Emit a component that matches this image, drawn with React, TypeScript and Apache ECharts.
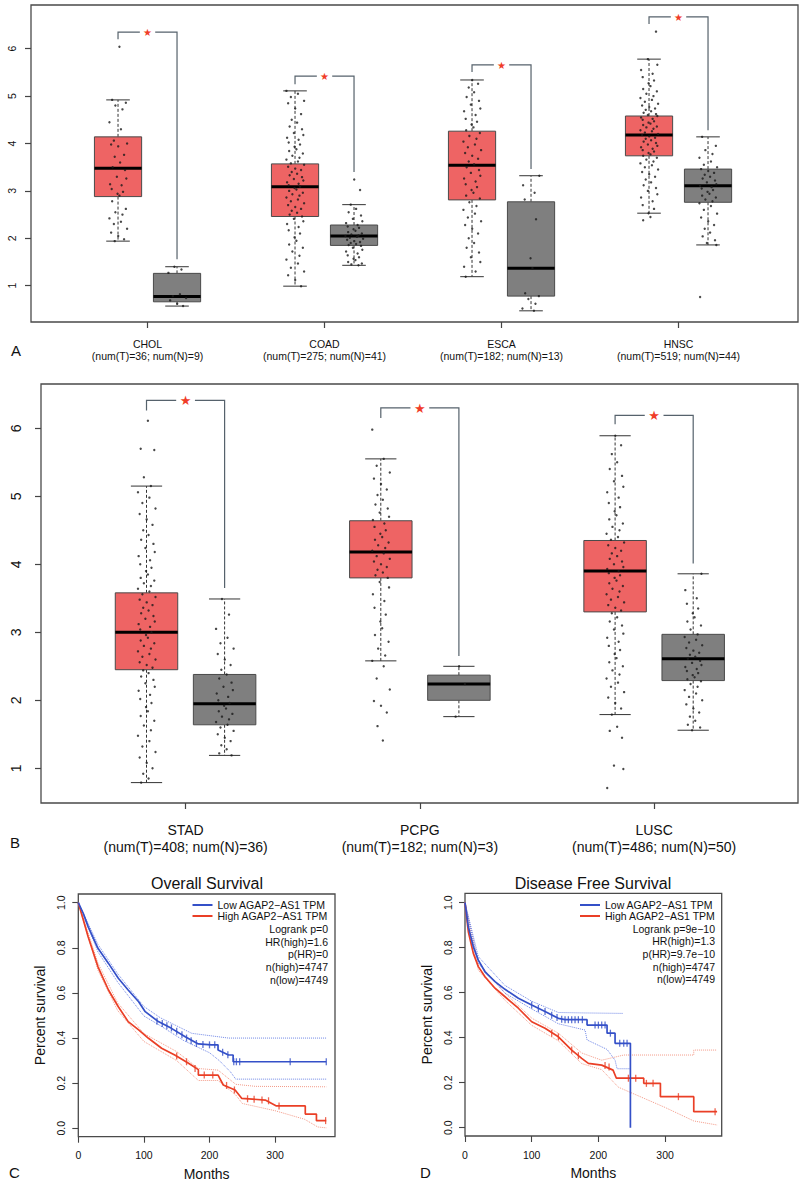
import React, { useEffect, useRef } from "react";
import * as echarts from "echarts";

// ---------------- Panel A ----------------
const cancersA = ["CHOL", "COAD", "ESCA", "HNSC"];
const numTumorA = [36, 275, 182, 519];
const numNormalA = [9, 41, 13, 44];
// [lower whisker, Q1, median, Q3, upper whisker]
const tumorStatsA = [
  [1.94, 2.88, 3.48, 4.14, 4.92],
  [0.99, 2.46, 3.09, 3.57, 5.11],
  [1.19, 2.81, 3.54, 4.26, 5.34],
  [2.53, 3.74, 4.18, 4.58, 5.78],
];
const normalStatsA = [
  [0.57, 0.66, 0.77, 1.26, 1.4],
  [1.43, 1.85, 2.05, 2.28, 2.71],
  [0.47, 0.78, 1.37, 2.77, 3.32],
  [1.86, 2.76, 3.11, 3.46, 4.14],
];
// [bracket top, left leg end, right leg end]
const bracketsA = [
  [6.35, 6.2, 1.56],
  [5.42, 5.25, 3.4],
  [5.66, 5.51, 3.46],
  [6.67, 6.52, 4.28],
];
const tumorPointsA = [
  [6.04, 4.92, 4.86, 4.8, 4.72, 4.45, 4.3, 4.06, 4.0, 3.98, 3.94, 3.76, 3.72, 3.6, 3.5, 3.44, 3.3, 3.26, 3.14, 3.12, 3.04, 2.98, 2.94, 2.9, 2.78, 2.62, 2.55, 2.5, 2.42, 2.35, 2.3, 2.2, 2.12, 2.05, 1.98, 1.94],
  [5.11, 5.05, 4.98, 4.9, 4.85, 4.74, 4.62, 4.5, 4.44, 4.36, 4.3, 4.22, 4.18, 4.12, 4.08, 4.02, 3.98, 3.93, 3.88, 3.84, 3.79, 3.74, 3.7, 3.66, 3.62, 3.58, 3.55, 3.51, 3.47, 3.44, 3.4, 3.36, 3.33, 3.29, 3.25, 3.22, 3.18, 3.15, 3.12, 3.09, 3.06, 3.03, 3.0, 2.96, 2.93, 2.9, 2.86, 2.82, 2.78, 2.74, 2.7, 2.66, 2.62, 2.58, 2.54, 2.5, 2.46, 2.41, 2.36, 2.3, 2.24, 2.17, 2.1, 2.02, 1.95, 1.87, 1.8, 1.72, 1.63, 1.55, 1.47, 1.38, 1.3, 1.22, 1.12, 0.99],
  [5.34, 5.26, 5.18, 5.08, 4.98, 4.9, 4.82, 4.74, 4.68, 4.6, 4.52, 4.46, 4.4, 4.34, 4.28, 4.22, 4.16, 4.1, 4.04, 3.98, 3.92, 3.86, 3.8, 3.74, 3.68, 3.62, 3.56, 3.5, 3.44, 3.38, 3.32, 3.26, 3.2, 3.14, 3.08, 3.02, 2.96, 2.9, 2.84, 2.76, 2.68, 2.6, 2.52, 2.44, 2.36, 2.28, 2.2, 2.1, 2.0, 1.9, 1.8, 1.7, 1.6, 1.5, 1.4, 1.3, 1.19],
  [6.36, 5.78, 5.66, 5.55, 5.47, 5.4, 5.33, 5.27, 5.21, 5.15, 5.1, 5.05, 5.0, 4.96, 4.92, 4.88, 4.84, 4.8, 4.77, 4.74, 4.71, 4.68, 4.65, 4.62, 4.6, 4.58, 4.55, 4.52, 4.5, 4.47, 4.44, 4.42, 4.39, 4.36, 4.34, 4.31, 4.28, 4.26, 4.23, 4.2, 4.18, 4.15, 4.12, 4.1, 4.07, 4.04, 4.01, 3.98, 3.95, 3.92, 3.89, 3.86, 3.83, 3.8, 3.77, 3.74, 3.7, 3.66, 3.62, 3.58, 3.54, 3.5, 3.45, 3.4, 3.35, 3.3, 3.24, 3.18, 3.12, 3.06, 3.0, 2.93, 2.86, 2.78, 2.7, 2.62, 2.53, 2.45, 2.38],
];
const normalPointsA = [
  [1.4, 1.34, 1.27, 0.82, 0.78, 0.74, 0.69, 0.62, 0.57],
  [3.24, 3.02, 2.71, 2.62, 2.55, 2.48, 2.41, 2.36, 2.32, 2.28, 2.25, 2.22, 2.19, 2.16, 2.13, 2.1, 2.08, 2.06, 2.05, 2.03, 2.01, 1.99, 1.97, 1.94, 1.92, 1.9, 1.88, 1.86, 1.84, 1.8, 1.76, 1.72, 1.68, 1.64, 1.6, 1.57, 1.54, 1.5, 1.47, 1.45, 1.43],
  [3.32, 3.12, 2.96, 2.82, 2.4, 1.58, 1.37, 0.84, 0.78, 0.72, 0.62, 0.52, 0.47],
  [4.14, 3.95, 3.86, 3.78, 3.7, 3.62, 3.55, 3.5, 3.46, 3.42, 3.38, 3.34, 3.3, 3.26, 3.22, 3.18, 3.14, 3.11, 3.08, 3.05, 3.02, 2.98, 2.94, 2.9, 2.86, 2.82, 2.78, 2.74, 2.68, 2.6, 2.52, 2.44, 2.36, 2.28, 2.2, 2.12, 2.04, 1.96, 1.9, 1.86, 0.76],
];
const yTicksA = [1, 2, 3, 4, 5, 6];

// ---------------- Panel B ----------------
const cancersB = ["STAD", "PCPG", "LUSC"];
const numTumorB = [408, 182, 486];
const numNormalB = [36, 3, 50];
const tumorStatsB = [
  [0.79, 2.45, 3.0, 3.58, 5.15],
  [2.58, 3.8, 4.18, 4.64, 5.55],
  [1.79, 3.3, 3.9, 4.35, 5.89],
];
const normalStatsB = [
  [1.19, 1.64, 1.95, 2.38, 3.49],
  [1.76, 2.0, 2.24, 2.37, 2.5],
  [1.56, 2.29, 2.61, 2.97, 3.86],
];
const bracketsB = [
  [6.41, 6.26, 3.65],
  [6.3, 6.15, 2.65],
  [6.19, 6.06, 4.01],
];
const tumorPointsB = [
  [6.11, 5.7, 5.68, 5.28, 5.15, 5.06, 4.98, 4.9, 4.82, 4.74, 4.66, 4.58, 4.5, 4.43, 4.36, 4.3, 4.24, 4.18, 4.12, 4.06, 4.0, 3.95, 3.9, 3.85, 3.8, 3.76, 3.72, 3.68, 3.64, 3.6, 3.56, 3.52, 3.48, 3.44, 3.4, 3.36, 3.32, 3.28, 3.24, 3.2, 3.16, 3.12, 3.08, 3.04, 3.0, 2.96, 2.92, 2.88, 2.84, 2.8, 2.76, 2.72, 2.68, 2.64, 2.6, 2.56, 2.52, 2.48, 2.44, 2.4, 2.35, 2.3, 2.25, 2.2, 2.14, 2.08, 2.02, 1.96, 1.9, 1.84, 1.77, 1.7, 1.63, 1.56, 1.48, 1.4, 1.32, 1.24, 1.16, 1.08, 1.0, 0.92, 0.85, 0.79],
  [5.98, 5.55, 5.45, 5.35, 5.26, 5.18, 5.1, 5.02, 4.95, 4.88, 4.82, 4.76, 4.7, 4.65, 4.6, 4.55, 4.5, 4.45, 4.4, 4.36, 4.32, 4.28, 4.24, 4.2, 4.16, 4.12, 4.08, 4.04, 4.0, 3.96, 3.92, 3.88, 3.84, 3.8, 3.74, 3.66, 3.56, 3.46, 3.36, 3.26, 3.16, 3.06, 2.96, 2.86, 2.76, 2.66, 2.58, 2.5, 2.32, 2.16, 1.99, 1.92, 1.82, 1.62, 1.41],
  [5.89, 5.75, 5.62, 5.5, 5.4, 5.3, 5.22, 5.14, 5.06, 4.98, 4.9, 4.84, 4.78, 4.72, 4.66, 4.6, 4.55, 4.5, 4.45, 4.4, 4.36, 4.32, 4.28, 4.24, 4.2, 4.16, 4.12, 4.08, 4.04, 4.0, 3.96, 3.93, 3.9, 3.87, 3.84, 3.8, 3.76, 3.72, 3.68, 3.64, 3.6, 3.56, 3.52, 3.48, 3.44, 3.4, 3.36, 3.32, 3.28, 3.22, 3.16, 3.1, 3.04, 2.98, 2.92, 2.86, 2.8, 2.74, 2.68, 2.62, 2.56, 2.5, 2.44, 2.38, 2.32, 2.26, 2.2, 2.12, 2.04, 1.96, 1.88, 1.79, 1.61, 1.55, 1.45, 1.04, 0.99, 0.71],
];
const normalPointsB = [
  [3.49, 3.26, 3.05, 2.92, 2.84, 2.76, 2.68, 2.6, 2.52, 2.45, 2.38, 2.32, 2.26, 2.2, 2.15, 2.1, 2.05, 2.0, 1.96, 1.92, 1.88, 1.84, 1.8, 1.76, 1.72, 1.68, 1.64, 1.6, 1.55, 1.5, 1.45, 1.4, 1.34, 1.28, 1.22, 1.19],
  [2.5, 2.24, 1.76],
  [3.86, 3.62, 3.5, 3.42, 3.35, 3.28, 3.22, 3.16, 3.1, 3.04, 2.97, 2.93, 2.89, 2.85, 2.81, 2.77, 2.73, 2.7, 2.67, 2.64, 2.61, 2.58, 2.55, 2.52, 2.49, 2.46, 2.43, 2.4, 2.37, 2.34, 2.31, 2.28, 2.24, 2.2, 2.15, 2.1, 2.05, 2.0, 1.94, 1.88, 1.82, 1.76, 1.7, 1.64, 1.6, 1.56],
];
const yTicksB = [1, 2, 3, 4, 5, 6];

// ---------------- Panels C & D (Kaplan-Meier) ----------------
const lowName = "Low AGAP2\u2212AS1 TPM";
const highName = "High AGAP2\u2212AS1 TPM";
const monthTicks = [0, 100, 200, 300];
const survTicks = [0, 0.2, 0.4, 0.6, 0.8, 1.0];

const osLow = [[0, 1], [8, 0.95], [15, 0.894], [30, 0.798], [46, 0.731], [61, 0.665], [76, 0.613], [92, 0.561], [102, 0.517], [122, 0.473], [142, 0.443], [163, 0.406], [183, 0.374], [203, 0.37], [213, 0.37], [213, 0.347], [229, 0.325], [236, 0.325], [236, 0.295], [378, 0.295]];
const osHigh = [[0, 1], [7, 0.93], [15, 0.849], [30, 0.716], [46, 0.613], [61, 0.539], [76, 0.473], [92, 0.436], [107, 0.399], [127, 0.355], [147, 0.325], [168, 0.288], [183, 0.26], [183, 0.236], [213, 0.236], [221, 0.192], [239, 0.17], [249, 0.133], [285, 0.125], [302, 0.099], [346, 0.099], [346, 0.063], [363, 0.063], [363, 0.034], [378, 0.034]];
const osLowUpper = [[0, 1], [30, 0.815], [60, 0.685], [100, 0.54], [125, 0.49], [173, 0.421], [229, 0.4], [378, 0.4]];
const osLowLower = [[0, 1], [30, 0.782], [60, 0.648], [100, 0.498], [125, 0.455], [160, 0.39], [200, 0.335], [215, 0.3], [232, 0.25], [240, 0.218], [378, 0.218]];
const osHighUpper = [[0, 1], [30, 0.732], [60, 0.556], [100, 0.42], [150, 0.34], [183, 0.265], [213, 0.258], [240, 0.195], [270, 0.186], [378, 0.184]];
const osHighLower = [[0, 1], [30, 0.7], [60, 0.522], [100, 0.385], [150, 0.3], [183, 0.212], [213, 0.212], [240, 0.148], [250, 0.11], [300, 0.078], [345, 0.04], [365, 0.006], [378, 0.002]];
const osLowCensor = [[120, 0.475], [128, 0.465], [135, 0.455], [142, 0.445], [150, 0.43], [158, 0.415], [165, 0.4], [172, 0.388], [180, 0.376], [190, 0.372], [200, 0.37], [208, 0.37], [220, 0.337], [228, 0.326], [237, 0.295], [241, 0.295], [246, 0.295], [323, 0.295], [378, 0.295]];
const osHighCensor = [[150, 0.32], [165, 0.295], [178, 0.265], [192, 0.236], [205, 0.236], [226, 0.19], [238, 0.17], [258, 0.131], [268, 0.129], [280, 0.126], [290, 0.122], [306, 0.099], [377, 0.034]];

const dfsLow = [[0, 1], [5, 0.893], [12.5, 0.804], [20, 0.745], [30, 0.693], [45, 0.649], [60, 0.615], [80, 0.575], [100, 0.545], [120, 0.516], [140, 0.486], [150, 0.48], [183, 0.48], [183, 0.456], [213, 0.456], [213, 0.42], [225, 0.42], [225, 0.375], [248, 0.375], [248, 0.0]];
const dfsHigh = [[0, 1], [5, 0.871], [12.5, 0.775], [20, 0.716], [30, 0.671], [45, 0.62], [60, 0.582], [80, 0.531], [100, 0.471], [120, 0.442], [140, 0.404], [160, 0.345], [175, 0.308], [185, 0.286], [205, 0.278], [222, 0.256], [227, 0.22], [268, 0.22], [268, 0.197], [293, 0.197], [293, 0.138], [343, 0.138], [343, 0.071], [378, 0.071]];
const dfsLowUpper = [[0, 1], [20, 0.76], [60, 0.632], [100, 0.562], [140, 0.512], [180, 0.51], [237, 0.508]];
const dfsLowLower = [[0, 1], [20, 0.73], [60, 0.598], [100, 0.528], [140, 0.462], [180, 0.434], [183, 0.39], [213, 0.348], [225, 0.3], [228, 0.262], [248, 0.262]];
const dfsHighUpper = [[0, 1], [20, 0.732], [60, 0.598], [100, 0.487], [140, 0.42], [175, 0.332], [205, 0.3], [238, 0.323], [343, 0.323], [343, 0.345], [378, 0.345]];
const dfsHighLower = [[0, 1], [20, 0.7], [60, 0.566], [100, 0.455], [140, 0.386], [175, 0.285], [205, 0.258], [230, 0.18], [300, 0.09], [343, 0.03], [378, 0.012]];
const dfsLowCensor = [[100, 0.545], [110, 0.53], [120, 0.516], [130, 0.5], [138, 0.49], [145, 0.482], [150, 0.48], [155, 0.48], [160, 0.48], [165, 0.48], [170, 0.48], [176, 0.48], [195, 0.456], [200, 0.456], [205, 0.456], [210, 0.456], [218, 0.42], [232, 0.375], [238, 0.375], [243, 0.375]];
const dfsHighCensor = [[130, 0.42], [140, 0.404], [160, 0.345], [170, 0.32], [210, 0.276], [216, 0.27], [245, 0.22], [256, 0.22], [272, 0.197], [282, 0.197], [320, 0.138], [375, 0.071]];

const statsC = ["Logrank p=0", "HR(high)=1.6", "p(HR)=0", "n(high)=4747", "n(low)=4749"];
const statsD = ["Logrank p=9e\u221210", "HR(high)=1.3", "p(HR)=9.7e\u221210", "n(high)=4747", "n(low)=4749"];

// ---------------- styles ----------------
const FONT = '"Liberation Sans", Arial, Helvetica, sans-serif';
const RED_BOX = "#ee6464";
const GREY_BOX = "#7f7f7f";
const BOX_EDGE = "#4a4a4a";
const BRACKET = "#56626c";
const STAR = "#f03c28";
const BLUE = "#3450c8";
const RED = "#ea3f26";
const BLUE_CI = "#6f86e6";
const RED_CI = "#f39a88";
const JITTER = [0.15, -0.62, 0.83, -0.28, 0.47, -0.91, 0.31, -0.44, 0.96, -0.73, 0.02, 0.64, -0.35, 0.22, -0.57, 0.74, -0.12, 0.88, -0.84, 0.38, -0.67, 0.53, -0.05];

function boxRender(boxW: number, capW: number) {
  return (params: any, api: any) => {
    const x = api.value(0);
    const lo = api.coord([x, api.value(1)]);
    const q1 = api.coord([x, api.value(2)]);
    const md = api.coord([x, api.value(3)]);
    const q3 = api.coord([x, api.value(4)]);
    const hi = api.coord([x, api.value(5)]);
    const kind = api.value(6);
    const w = api.size([boxW, 0])[0];
    const cw = api.size([capW, 0])[0];
    const cx = md[0];
    const whisk = { stroke: "#333", lineWidth: 1, lineDash: [3, 2] };
    const cap = { stroke: "#333", lineWidth: 1 };
    return {
      type: "group",
      children: [
        { type: "line", shape: { x1: cx, y1: q3[1], x2: cx, y2: hi[1] }, style: whisk },
        { type: "line", shape: { x1: cx, y1: q1[1], x2: cx, y2: lo[1] }, style: whisk },
        { type: "line", shape: { x1: cx - cw / 2, y1: hi[1], x2: cx + cw / 2, y2: hi[1] }, style: cap },
        { type: "line", shape: { x1: cx - cw / 2, y1: lo[1], x2: cx + cw / 2, y2: lo[1] }, style: cap },
        { type: "rect", shape: { x: cx - w / 2, y: q3[1], width: w, height: q1[1] - q3[1] }, style: { fill: kind === 0 ? RED_BOX : GREY_BOX, stroke: BOX_EDGE, lineWidth: 1 } },
        { type: "line", shape: { x1: cx - w / 2, y1: md[1], x2: cx + w / 2, y2: md[1] }, style: { stroke: "#000", lineWidth: 3 } },
      ],
    };
  };
}

function bracketRender(gap: number, starSize: number) {
  return (params: any, api: any) => {
    const t = api.value(0);
    const n = api.value(1);
    const pT = api.coord([t, api.value(2)]);
    const pN = api.coord([n, api.value(2)]);
    const yL = api.coord([t, api.value(3)])[1];
    const yR = api.coord([n, api.value(4)])[1];
    const mid = (pT[0] + pN[0]) / 2;
    const g = api.size([gap, 0])[0];
    const st = { stroke: BRACKET, fill: "none", lineWidth: 1.2 };
    return {
      type: "group",
      children: [
        { type: "polyline", shape: { points: [[pT[0], yL], [pT[0], pT[1]], [mid - g, pT[1]]] }, style: st },
        { type: "polyline", shape: { points: [[mid + g, pN[1]], [pN[0], pN[1]], [pN[0], yR]] }, style: st },
        {
          type: "text",
          style: {
            text: "\u2605", x: mid, y: pT[1] + 0.5, fill: STAR,
            fontSize: starSize, fontFamily: "DejaVu Sans",
            font: starSize + "px 'DejaVu Sans'",
            align: "center", verticalAlign: "middle", textAlign: "center", textVerticalAlign: "middle",
          },
        },
      ],
    };
  };
}

function boxPanel(idx: number, tStats: number[][], nStats: number[][], brackets: number[][], tPts: number[][], nPts: number[][], jitterW: number, gap: number, starSize: number) {
  const boxData: any[] = [];
  const bracketData: any[] = [];
  const dots: any[] = [];
  tStats.forEach((s, g) => {
    boxData.push([3 * g, ...s, 0]);
    boxData.push([3 * g + 1, ...nStats[g], 1]);
    bracketData.push([3 * g, 3 * g + 1, ...brackets[g]]);
    tPts[g].forEach((v, i) => dots.push([3 * g + JITTER[(i + g * 5) % JITTER.length] * jitterW, v]));
    nPts[g].forEach((v, i) => dots.push([3 * g + 1 + JITTER[(i + g * 7 + 3) % JITTER.length] * jitterW, v]));
  });
  return [
    {
      type: "custom", xAxisIndex: idx, yAxisIndex: idx, renderItem: boxRender(0.8, 0.4),
      data: boxData, encode: { x: 0, y: [1, 2, 3, 4, 5] }, clip: false, silent: true, z: 2,
    },
    {
      type: "scatter", xAxisIndex: idx, yAxisIndex: idx, data: dots, symbolSize: 2.4,
      itemStyle: { color: "#1a1a1a" }, silent: true, z: 4,
    },
    {
      type: "custom", xAxisIndex: idx, yAxisIndex: idx, renderItem: bracketRender(gap, starSize),
      data: bracketData, encode: { x: [0, 1], y: [2, 3, 4] }, clip: false, silent: true, z: 3,
    },
  ];
}

function boxAxes(idx: number, min: number, max: number, ymin: number, ymax: number, names: string[], nT: number[], nN: number[], yTicks: number[], fs: number, lh: number, xMargin: number, yMargin: number) {
  const groupTicks = names.map((_, g) => 3 * g + 0.5);
  const xAxis = {
    gridIndex: idx, type: "value", min, max,
    axisLine: { show: false, onZero: false },
    splitLine: { show: false },
    axisTick: { show: true, inside: false, length: 6, customValues: groupTicks, lineStyle: { color: "#444", width: 1.2 } },
    axisLabel: {
      customValues: groupTicks, margin: xMargin, fontSize: fs, lineHeight: lh, fontFamily: FONT, color: "#111",
      formatter: (v: number) => {
        const g = Math.round((v - 0.5) / 3);
        return names[g] + "\n(num(T)=" + nT[g] + "; num(N)=" + nN[g] + ")";
      },
    },
  };
  const yAxis = {
    gridIndex: idx, type: "value", min: ymin, max: ymax,
    axisLine: { show: false, onZero: false },
    splitLine: { show: false },
    axisTick: { show: true, inside: false, length: 6, customValues: yTicks, lineStyle: { color: "#444", width: 1.2 } },
    axisLabel: { customValues: yTicks, rotate: 90, margin: yMargin, fontSize: fs, fontFamily: FONT, color: "#111" },
  };
  return { xAxis, yAxis };
}

function kmAxes(idx: number, xmax: number, ymin: number, ymax: number) {
  const xAxis = {
    gridIndex: idx, type: "value", min: 0, max: xmax,
    name: "Months", nameLocation: "middle", nameGap: 30,
    nameTextStyle: { fontSize: 14, fontFamily: FONT, color: "#111" },
    axisLine: { show: false, onZero: false },
    splitLine: { show: false },
    axisTick: { show: true, inside: false, length: 6, customValues: monthTicks, lineStyle: { color: "#444", width: 1.1 } },
    axisLabel: { customValues: monthTicks, margin: 13, fontSize: 10.5, fontFamily: FONT, color: "#111" },
  };
  const yAxis = {
    gridIndex: idx, type: "value", min: ymin, max: ymax,
    name: "Percent survival", nameLocation: "middle", nameGap: 31,
    nameTextStyle: { fontSize: 14, fontFamily: FONT, color: "#111" },
    axisLine: { show: false, onZero: false },
    splitLine: { show: false },
    axisTick: { show: true, inside: false, length: 6, customValues: survTicks, lineStyle: { color: "#444", width: 1.1 } },
    axisLabel: { customValues: survTicks, rotate: 90, margin: 12, fontSize: 10.5, fontFamily: FONT, color: "#111", formatter: (v: number) => v.toFixed(1) },
  };
  return { xAxis, yAxis };
}

function kmSeries(idx: number, low: number[][], high: number[][], lu: number[][], ll: number[][], hu: number[][], hl: number[][], lc: number[][], hc: number[][]) {
  const ci = (data: number[][], color: string) => ({
    type: "line", name: "ci", xAxisIndex: idx, yAxisIndex: idx, data, symbol: "none", silent: true,
    lineStyle: { color, width: 1, type: "dotted" }, z: 3,
  });
  const main = (name: string, data: number[][], color: string) => ({
    type: "line", name, xAxisIndex: idx, yAxisIndex: idx, data, symbol: "none", silent: true,
    lineStyle: { color, width: 1.7 }, itemStyle: { color }, z: 5,
  });
  const cens = (data: number[][], color: string) => ({
    type: "scatter", name: "censor", xAxisIndex: idx, yAxisIndex: idx, data, symbol: "rect", symbolSize: [1.3, 7], silent: true,
    itemStyle: { color }, z: 6,
  });
  return [
    ci(hu, RED_CI), ci(hl, RED_CI), ci(lu, BLUE_CI), ci(ll, BLUE_CI),
    main(highName, high, RED), main(lowName, low, BLUE),
    cens(hc, RED), cens(lc, BLUE),
  ];
}

function textEl(text: string, x: number, y: number, size: number, align: string, vAlign = "middle") {
  return {
    type: "text", silent: true,
    style: {
      text, x, y, fill: "#111", fontSize: size, fontFamily: FONT, font: size + "px " + FONT,
      align, verticalAlign: vAlign, textAlign: align, textVerticalAlign: vAlign,
    },
  };
}

export default function App() {
  const ref = useRef<HTMLDivElement>(null);
  useEffect(() => {
    if (!ref.current) return;
    const chart = echarts.init(ref.current, undefined, { renderer: "svg" });
    const aAx = boxAxes(0, -1.475, 11.525, 0.234, 6.922, cancersA, numTumorA, numNormalA, yTicksA, 10.5, 12, 16, 14);
    const bAx = boxAxes(1, -1.351, 8.342, 0.49, 6.651, cancersB, numTumorB, numNormalB, yTicksB, 14, 17.4, 18, 18);
    const cAx = kmAxes(2, 391.3, -0.0372, 1.0386);
    const dAx = kmAxes(3, 384.9, -0.0369, 1.0418);
    const gridStyle = { show: true, borderColor: "#4a4a4a", borderWidth: 1.3, backgroundColor: "#fff", containLabel: false };
    const legendBase = {
      data: [lowName, highName], orient: "vertical", itemWidth: 20, itemHeight: 2, itemGap: 0, icon: "rect",
      padding: 0, selectedMode: false,
      textStyle: { fontSize: 10.5, lineHeight: 10.7, fontFamily: FONT, color: "#111" },
    };
    const graphics: any[] = [
      textEl("A", 11, 350, 15, "left"),
      textEl("B", 10, 842, 15, "left"),
      textEl("C", 9, 1172, 15, "left"),
      textEl("D", 420, 1172, 15, "left"),
      textEl("Overall Survival", 207, 883, 16, "center"),
      textEl("Disease Free Survival", 593, 883, 16, "center"),
    ];
    statsC.forEach((s, i) => graphics.push(textEl(s, 328, 929 + i * 12.7, 10.5, "right")));
    statsD.forEach((s, i) => graphics.push(textEl(s, 715, 928.5 + i * 12.7, 10.5, "right")));

    chart.setOption({
      animation: false,
      backgroundColor: "#fff",
      textStyle: { fontFamily: FONT },
      grid: [
        { ...gridStyle, left: 31, top: 5, width: 767, height: 317 },
        { ...gridStyle, left: 41, top: 384, width: 757, height: 419 },
        { ...gridStyle, left: 78.3, top: 894, width: 256.7, height: 242.7 },
        { ...gridStyle, left: 465, top: 893.3, width: 256.7, height: 242.7 },
      ],
      xAxis: [aAx.xAxis, bAx.xAxis, cAx.xAxis, dAx.xAxis],
      yAxis: [aAx.yAxis, bAx.yAxis, cAx.yAxis, dAx.yAxis],
      legend: [
        { ...legendBase, left: 192.5, top: 899.5 },
        { ...legendBase, left: 580, top: 899.5 },
      ],
      graphic: graphics,
      series: [
        ...boxPanel(0, tumorStatsA, normalStatsA, bracketsA, tumorPointsA, normalPointsA, 0.16, 0.13, 10),
        ...boxPanel(1, tumorStatsB, normalStatsB, bracketsB, tumorPointsB, normalPointsB, 0.12, 0.12, 13),
        ...kmSeries(2, osLow, osHigh, osLowUpper, osLowLower, osHighUpper, osHighLower, osLowCensor, osHighCensor),
        ...kmSeries(3, dfsLow, dfsHigh, dfsLowUpper, dfsLowLower, dfsHighUpper, dfsHighLower, dfsLowCensor, dfsHighCensor),
      ],
    });
    return () => chart.dispose();
  }, []);
  return <div ref={ref} style={{ position: "absolute", left: 0, top: 0, width: 800, height: 1182 }} />;
}
